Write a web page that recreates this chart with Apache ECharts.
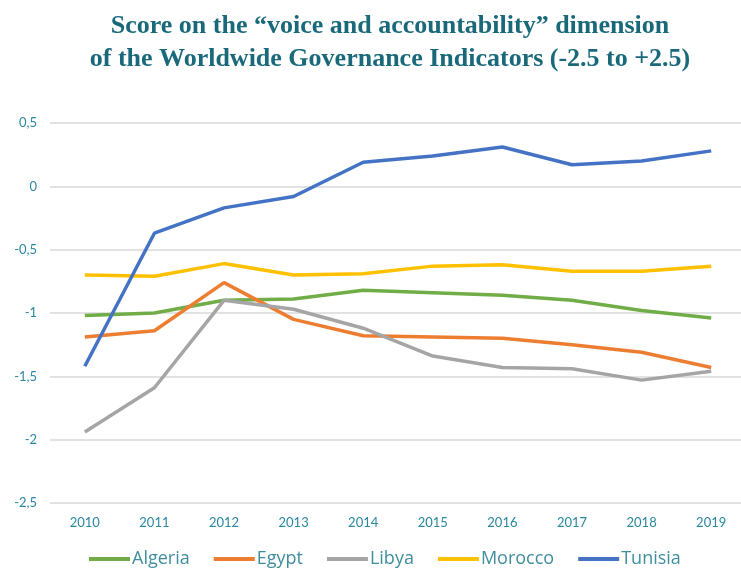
<!DOCTYPE html>
<html><head><meta charset="utf-8">
<script src="https://cdn.jsdelivr.net/npm/echarts@6/dist/echarts.min.js"></script>
<style>html,body{margin:0;padding:0;background:#fff}#c{width:741px;height:569px}</style>
</head><body><div id="c"></div>
<script>
const years = ['2010','2011','2012','2013','2014','2015','2016','2017','2018','2019'];
const algeria = [-1.02,-1.00,-0.90,-0.89,-0.82,-0.84,-0.86,-0.90,-0.98,-1.04];
const egypt   = [-1.19,-1.14,-0.76,-1.05,-1.18,-1.19,-1.20,-1.25,-1.31,-1.43];
const libya   = [-1.94,-1.59,-0.90,-0.97,-1.12,-1.34,-1.43,-1.44,-1.53,-1.46];
const morocco = [-0.70,-0.71,-0.61,-0.70,-0.69,-0.63,-0.62,-0.67,-0.67,-0.63];
const tunisia = [-1.42,-0.37,-0.17,-0.08,0.19,0.24,0.31,0.17,0.20,0.28];
const names = ['Algeria','Egypt','Libya','Morocco','Tunisia'];
const colors = ['#70ad47','#ed7d31','#a5a5a5','#ffc000','#4472c4'];
const values = [algeria, egypt, libya, morocco, tunisia];

const chart = echarts.init(document.getElementById('c'));
chart.setOption({
  animation:false,
  title:{
    text:'Score on the \u201cvoice and accountability\u201d dimension\nof the Worldwide Governance Indicators (-2.5 to +2.5)',
    left:385, top:5, textAlign:'center',
    textStyle:{fontFamily:'Liberation Serif', fontWeight:'bold', fontSize:26, color:'#19697a', lineHeight:33}
  },
  legend:{
    top:545, left:84, icon:'rect', itemWidth:41, itemHeight:4, itemGap:24,
    textStyle:{fontFamily:'Open Sans', fontSize:18, color:'#3f8e9e', padding:[0,0,0,-3]},
    data:names
  },
  grid:{left:50, top:123, width:696, bottom:66, outerBoundsMode:'none', containLabel:false},
  xAxis:{
    type:'category', data:years, boundaryGap:true,
    axisLine:{show:false}, axisTick:{show:false},
    axisLabel:{fontFamily:'Lato', fontSize:13, color:'#2a87a0', margin:13}
  },
  yAxis:{
    type:'value', min:-2.5, max:0.5, interval:0.5,
    axisLine:{show:false}, axisTick:{show:false},
    splitLine:{lineStyle:{color:'#d9d9d9', width:1.5}},
    axisLabel:{fontFamily:'Lato', fontSize:13, color:'#2a87a0', margin:13,
      formatter:v=>String(v).replace('.',',')}
  },
  series: names.map((n,i)=>({
    name:n, type:'line', data:values[i], showSymbol:false, symbol:'none',
    lineStyle:{width:3.5, color:colors[i]}, itemStyle:{color:colors[i]}
  }))
});
</script></body></html>
